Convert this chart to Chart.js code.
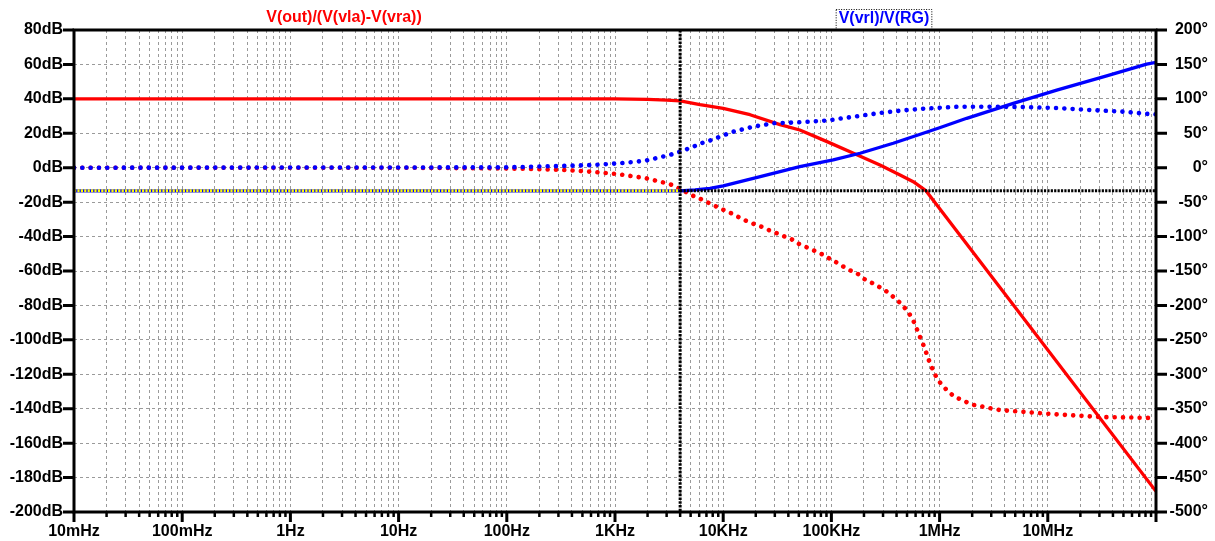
<!DOCTYPE html>
<html><head><meta charset="utf-8">
<script src="https://cdn.jsdelivr.net/npm/chart.js@4.4.0/dist/chart.umd.min.js"></script>
<style>html,body{margin:0;padding:0;background:#fff;}#wrap{width:1215px;height:541px;position:relative;}</style>
</head><body><div id="wrap"><canvas id="c"></canvas></div>
<script>
// ---- data ----
const decadeValues = [0.01, 0.1, 1, 10, 100, 1e3, 1e4, 1e5, 1e6, 1e7];
const decadeLabels = ['10mHz','100mHz','1Hz','10Hz','100Hz','1KHz','10KHz','100KHz','1MHz','10MHz'];
const dbTicks = [80,60,40,20,0,-20,-40,-60,-80,-100,-120,-140,-160,-180,-200];
const degTicks = [200,150,100,50,0,-50,-100,-150,-200,-250,-300,-350,-400,-450,-500];

const redTitle = 'V(out)/(V(vla)-V(vra))';
const blueTitle = 'V(vrl)/V(RG)';

// red: V(out)/(V(vla)-V(vra)) magnitude (dB)
const redMagFreq = [0.01, 1000, 2000, 3000, 4000, 6100, 10000, 17700, 33500, 51000, 90000, 158000, 281000, 431000, 571000, 745000, 1e8];
const redMag     = [40, 40, 39.7, 39.3, 38.8, 36.6, 34.5, 30.8, 25.0, 21.9, 15.3, 8.5, 1.6, -4.2, -8.1, -13.3, -188];

// red: phase (deg)
const redPhFreq = [0.01, 10, 100, 310, 630, 1100, 1900, 3200, 4000, 5300, 6300, 7700, 9100, 10600, 12600, 15100, 18000, 22000, 26000, 31000, 37000, 43000, 49000, 58000, 67000, 77000, 88500, 101000, 116000, 132000, 151000, 175000, 201000, 229000, 262000, 298000, 341000, 387000, 446000, 514000, 564000, 605000, 659000, 728000, 793000, 875000, 953000, 1050000, 1200000, 1370000, 2000000, 3600000, 10500000, 30000000, 1e8];
const redPh     = [0, 0, -1, -3, -6, -9.6, -15, -23.6, -31, -41, -46, -52.7, -58, -63, -68, -75, -80, -85, -90, -95, -100, -104, -110, -115, -119.5, -123.5, -128.6, -134, -139, -144.6, -149.5, -154, -161.6, -166, -171, -176, -182, -190, -198, -210, -220, -231, -246, -262, -279, -295, -307, -315.5, -325, -332.5, -344, -352, -357.6, -362, -363.5];

// blue: V(vrl)/V(RG) magnitude (dB)
const blueMagFreq = [0.01, 4000, 5500, 7550, 10000, 22000, 51000, 104000, 184000, 281000, 373000, 706000, 1000000, 1780000, 4800000, 12100000, 35000000, 82000000, 1e8];
const blueMag     = [-13.5, -13.5, -12.9, -12.0, -10.6, -5.2, 0.6, 4.5, 8.4, 11.9, 14.2, 20.0, 23.2, 28.7, 37.4, 45.1, 53.3, 60.2, 61.2];

// blue: phase (deg)
const bluePhFreq = [0.01, 100, 310, 627, 1100, 1900, 3200, 3850, 5300, 6100, 7550, 9300, 12400, 19000, 29000, 51000, 90000, 159000, 281000, 431000, 707000, 1440000, 2900000, 5900000, 12000000, 24500000, 50000000, 82000000, 1e8];
const bluePh     = [0, 0.5, 2.5, 3.9, 6.4, 10.1, 18.5, 22.4, 30.5, 35, 39.5, 45, 52.3, 59.6, 64.5, 66, 68.5, 74, 79.5, 82.8, 85.7, 88.5, 88.6, 88.2, 86.7, 83.8, 81.4, 78.3, 77.5];

// cursor
const cursorFreq = 4000;
const cursorDb = -13.4;

// ---- build ----
const pts = (xs, ys) => xs.map((x, i) => ({x: x, y: ys[i]}));
const FONT = "'Liberation Sans', Arial, sans-serif";
const xTickValues = [];
for (let n = -2; n <= 7; n++) for (let k = 1; k <= 9; k++) xTickValues.push(+(k * Math.pow(10, n)).toPrecision(6));
xTickValues.push(1e8);
const isDecade = v => Math.abs(Math.log10(v) - Math.round(Math.log10(v))) < 1e-9;

const frame = {
  id: 'frame',
  afterDatasetsDraw(chart) {
    const ctx = chart.ctx, a = chart.chartArea;
    const xs = chart.scales.x, ys = chart.scales.y;
    const cx = xs.getPixelForValue(cursorFreq), cy = ys.getPixelForValue(cursorDb);
    ctx.save();
    ctx.lineWidth = 3; ctx.lineCap = 'butt';
    ctx.setLineDash([2.2, 1.2]);
    ctx.strokeStyle = '#ffff00';
    ctx.beginPath(); ctx.moveTo(a.left, cy); ctx.lineTo(cx, cy); ctx.stroke();
    ctx.strokeStyle = '#000';
    ctx.beginPath(); ctx.moveTo(cx, cy); ctx.lineTo(a.right, cy); ctx.stroke();
    ctx.setLineDash([2.6, 1.2]);
    ctx.beginPath(); ctx.moveTo(cx, a.top); ctx.lineTo(cx, a.bottom); ctx.stroke();
    ctx.restore();
  },
  afterDraw(chart) {
    const ctx = chart.ctx, a = chart.chartArea;
    const xs = chart.scales.x, ys = chart.scales.y, y1 = chart.scales.y1;
    ctx.save();
    ctx.strokeStyle = '#000';
    ctx.lineWidth = 3;
    ctx.setLineDash([]);
    ctx.strokeRect(a.left, a.top, a.right - a.left, a.bottom - a.top);
    ctx.beginPath();
    dbTicks.forEach(v => { const y = ys.getPixelForValue(v); ctx.moveTo(a.left - 11, y); ctx.lineTo(a.left, y); });
    degTicks.forEach(v => { const y = y1.getPixelForValue(v); ctx.moveTo(a.right, y); ctx.lineTo(a.right + 11, y); });
    ctx.stroke();
    xTickValues.forEach(v => {
      const x = xs.getPixelForValue(v);
      const maj = isDecade(v);
      ctx.lineWidth = maj ? 3 : 2.5;
      ctx.beginPath(); ctx.moveTo(x, a.bottom); ctx.lineTo(x, a.bottom + (maj ? 10 : 5)); ctx.stroke();
    });
    ctx.font = 'bold 16px ' + FONT;
    ctx.textAlign = 'center'; ctx.textBaseline = 'middle';
    ctx.fillStyle = '#ff0000';
    ctx.fillText(redTitle, 344, 18);
    ctx.fillStyle = '#0000ff';
    ctx.fillText(blueTitle, 884, 18.5);
    const w = ctx.measureText(blueTitle).width;
    ctx.strokeStyle = '#000'; ctx.lineWidth = 1; ctx.setLineDash([1, 1.5]);
    ctx.strokeRect(884 - w / 2 - 2.5, 9.5, w + 5, 20);
    ctx.restore();
  }
};

const tickFont = {family: FONT, size: 16, weight: 'bold'};
const gridOpts = {color: '#9a9a9a', lineWidth: 1, drawTicks: false};

new Chart(document.getElementById('c'), {
  type: 'line',
  data: {
    datasets: [
      {label: 'bluePh', data: pts(bluePhFreq, bluePh), yAxisID: 'y1', borderColor: '#0000ff', borderWidth: 4.6, borderDash: [0.01, 8.3], borderCapStyle: 'round', pointRadius: 0, tension: 0},
      {label: 'blueMag', data: pts(blueMagFreq, blueMag), yAxisID: 'y', borderColor: '#0000ff', borderWidth: 3.3, pointRadius: 0, tension: 0, borderJoinStyle: 'round'},
      {label: 'redPh', data: pts(redPhFreq, redPh), yAxisID: 'y1', borderColor: '#ff0000', borderWidth: 4.6, borderDash: [0.01, 8.3], borderCapStyle: 'round', pointRadius: 0, tension: 0},
      {label: 'redMag', data: pts(redMagFreq, redMag), yAxisID: 'y', borderColor: '#ff0000', borderWidth: 3.3, pointRadius: 0, tension: 0, borderJoinStyle: 'round'}
    ]
  },
  options: {
    responsive: true, maintainAspectRatio: false, animation: false,
    layout: {padding: {top: 30, right: 7, left: 0, bottom: 0}},
    plugins: {legend: {display: false}, tooltip: {enabled: false}, title: {display: false}},
    scales: {
      x: {
        type: 'logarithmic', position: 'bottom', min: 0.01, max: 1e8,
        afterBuildTicks: s => { s.ticks = xTickValues.map(v => ({value: v})); },
        afterFit: s => { s.height = 29; },
        ticks: {autoSkip: false, maxRotation: 0, minRotation: 0, padding: 10, color: '#000', font: tickFont,
          callback: v => { const i = decadeValues.findIndex(d => Math.abs(Math.log10(d) - Math.log10(v)) < 1e-9); return i >= 0 ? decadeLabels[i] : ''; }},
        grid: gridOpts,
        border: {display: false, dash: [3, 3]}
      },
      y: {
        type: 'linear', position: 'left', min: -200, max: 80,
        afterBuildTicks: s => { s.ticks = dbTicks.map(v => ({value: v})); },
        afterFit: s => { s.width = 74; },
        ticks: {padding: 11, color: '#000', font: tickFont, callback: v => v + 'dB'},
        grid: gridOpts,
        border: {display: false, dash: [3, 3]}
      },
      y1: {
        type: 'linear', position: 'right', min: -500, max: 200,
        afterBuildTicks: s => { s.ticks = degTicks.map(v => ({value: v})); },
        afterFit: s => { s.width = 52; },
        ticks: {padding: 11, crossAlign: 'far', color: '#000', font: tickFont, callback: v => v + '°'},
        grid: {display: false, drawTicks: false},
        border: {display: false}
      }
    }
  },
  plugins: [frame]
});
</script>
</body></html>
